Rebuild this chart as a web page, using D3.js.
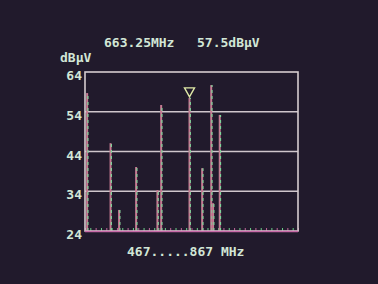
<!DOCTYPE html>
<head>
<meta charset="utf-8">
<script src="https://d3js.org/d3.v7.min.js"></script>
<style>
body {
	margin: 0;
	background: #211a2c;
}
svg {
	display: block;
}
.lbl {
	font: bold 13px "DejaVu Sans Mono", monospace;
	fill: #d2e6d6;
}
.grid line {
	stroke: #cfc6cc;
	stroke-width: 1.6px;
}
.frame {
	fill: none;
	stroke: #d6ccd0;
	stroke-width: 1.6px;
}
</style>
</head>
<body>
<svg id="chart" width="378" height="284"></svg>
<script>

// carriers seen on the screen (MHz) and their levels (dBuV)
var freqs = [471, 515, 531, 563, 603, 610, 663.25, 687, 704, 707.5, 720];
var levels = [58.7, 46.1, 29.3, 40.1, 34.3, 55.7, 57.5, 39.8, 60.7, 31.0, 53.2];
var yTicks = [24, 34, 44, 54, 64];
var span = [467, 867];
var markerFreq = 663.25, markerLevel = 57.5;
var readout = ["663.25MHz", "57.5dBµV"];
var unitLabel = "dBµV";
var spanLabel = "467.....867 MHz";

var svg = d3.select("#chart"),
	margin = {top: 72, right: 80, bottom: 53, left: 85},
	W = +svg.attr("width"),
	H = +svg.attr("height");

var x = d3.scaleLinear().domain(span).range([margin.left, W - margin.right]);
var y = d3.scaleLinear().domain([24, 64]).range([H - margin.bottom, margin.top]);

// horizontal grid
svg.append("g")
	.attr("class", "grid")
	.selectAll("line")
	.data(yTicks.slice(1, -1))
	.join("line")
	.attr("x1", x(span[0])).attr("x2", x(span[1]))
	.attr("y1", d => y(d)).attr("y2", d => y(d));

// small ticks along the bottom edge, every 10 MHz
var tickAxis = d3.axisBottom(x)
	.tickValues(d3.range(span[0], span[1] + 1, 10))
	.tickSize(-3)
	.tickFormat("");
var ta = svg.append("g")
	.attr("transform", "translate(0," + y(24) + ")")
	.call(tickAxis);
ta.select(".domain").remove();
ta.selectAll("line").attr("stroke", (d, i) => i % 2 ? "#6fcf8a" : "#c0689a").attr("stroke-width", 1);

// bars (stem lines), red/green striping like the crt
var bars = svg.append("g");
freqs.forEach(function(f, i) {
	bars.append("line")
		.attr("x1", x(f)).attr("x2", x(f))
		.attr("y1", y(24)).attr("y2", y(levels[i]))
		.attr("stroke", "#c57a92")
		.attr("stroke-width", 2);
	bars.append("line")
		.attr("x1", x(f) + 0.8).attr("x2", x(f) + 0.8)
		.attr("y1", y(24)).attr("y2", y(levels[i]))
		.attr("stroke", "#7fd49a")
		.attr("stroke-width", 1.2)
		.attr("stroke-dasharray", "3,3");
});

// frame
svg.append("rect")
	.attr("class", "frame")
	.attr("x", x(span[0])).attr("y", y(64))
	.attr("width", x(span[1]) - x(span[0]))
	.attr("height", y(24) - y(64));
svg.append("line")
	.attr("x1", x(span[0])).attr("x2", x(span[1]))
	.attr("y1", y(24) + 0.5).attr("y2", y(24) + 0.5)
	.attr("stroke", "#c86aa8").attr("stroke-width", 1.6);

// marker
var mx = x(markerFreq), my = y(markerLevel);
svg.append("path")
	.attr("d", "M" + (mx - 5) + "," + (my - 10) + "L" + (mx + 5) + "," + (my - 10) + "L" + mx + "," + (my - 1) + "Z")
	.attr("fill", "none")
	.attr("stroke", "#dfe9a6")
	.attr("stroke-width", 1.4);

// y labels
svg.append("g")
	.selectAll("text")
	.data(yTicks)
	.join("text")
	.attr("class", "lbl")
	.attr("x", margin.left - 3)
	.attr("y", d => y(d) + 8)
	.attr("text-anchor", "end")
	.text(d => d);

svg.append("text").attr("class", "lbl")
	.attr("x", 60).attr("y", 62).text(unitLabel);

svg.append("text").attr("class", "lbl")
	.attr("x", 104).attr("y", 47).text(readout[0]);
svg.append("text").attr("class", "lbl")
	.attr("x", 197).attr("y", 47).text(readout[1]);

svg.append("text").attr("class", "lbl")
	.attr("x", 127).attr("y", 256).text(spanLabel);

</script>
</body>
